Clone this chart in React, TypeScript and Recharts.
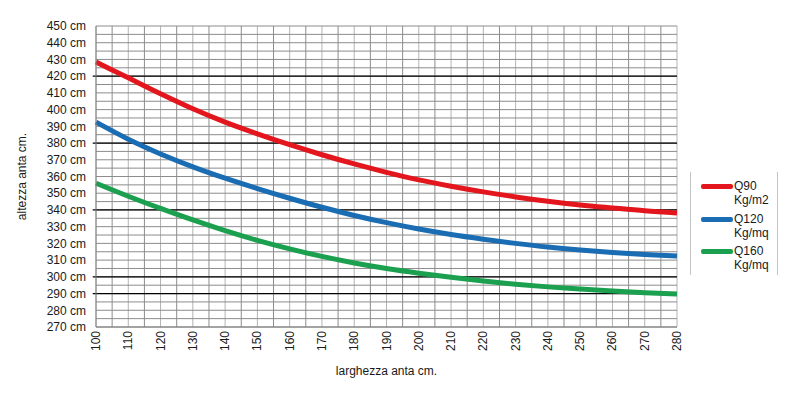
import React from "react";
import {
  LineChart,
  Line,
  XAxis,
  YAxis,
  ReferenceLine,
} from "recharts";

// larghezza anta (cm)
const widths = [
  100, 110, 120, 130, 140, 150, 160, 170, 180, 190, 200, 210, 220, 230, 240,
  250, 260, 270, 280,
];

// altezza anta (cm) per carico
const q90 = [
  428.5, 419, 409.5, 400.5, 392.5, 385.5, 379, 373, 367.5, 362.5, 358, 354.2,
  350.8, 347.8, 345.2, 343, 341.2, 339.5, 338.2,
];
const q120 = [
  392.5, 382.3, 373.5, 365.8, 359, 352.8, 347, 341.6, 336.7, 332.4, 328.6,
  325.3, 322.5, 320, 317.8, 316, 314.5, 313.3, 312.4,
];
const q160 = [
  356, 348.2, 340.9, 334, 327.6, 321.8, 316.7, 312.2, 308.3, 305, 302.2, 299.7,
  297.5, 295.6, 294, 292.7, 291.5, 290.5, 289.7,
];

const yTicks = [
  270, 280, 290, 300, 310, 320, 330, 340, 350, 360, 370, 380, 390, 400, 410,
  420, 430, 440, 450,
];

// linee nere di riferimento
const blackLines = [420, 380, 340, 300, 290];

const seriesNames = ["Q90\nKg/m2", "Q120\nKg/mq", "Q160\nKg/mq"];
const seriesColors = ["#e3161d", "#1a6cb3", "#1ba04f"];

const data = widths.map((w, i) => ({
  w,
  q90: q90[i],
  q120: q120[i],
  q160: q160[i],
}));

const gridX: number[] = [];
for (let v = 100; v <= 280; v += 5) gridX.push(v);
const gridY: number[] = [];
for (let v = 270; v <= 450; v += 5) gridY.push(v);

const font = "'Liberation Sans', Arial, sans-serif";
const textColor = "#1a1a1a";

const XTick = ({ x, y, payload }: any) => (
  <text
    transform={`translate(${x},${y}) rotate(-90)`}
    textAnchor="end"
    dominantBaseline="central"
    fontSize={12}
    fontFamily={font}
    fill={textColor}
  >
    {payload.value}
  </text>
);

const keys = ["q90", "q120", "q160"];

export default function App() {
  return (
    <div
      style={{
        position: "absolute",
        left: 0,
        top: 0,
        width: 801,
        height: 397,
        background: "#fff",
        fontFamily: font,
      }}
    >
      <LineChart
        width={801}
        height={397}
        data={data}
        margin={{ top: 26, right: 124, bottom: 0, left: 0 }}
      >
        {gridX.map((v) => (
          <ReferenceLine
            key={"gx" + v}
            x={v}
            stroke={v % 10 === 0 ? "#b4b4b4" : "#8c8c8c"}
            strokeWidth={1}
          />
        ))}
        {gridY.map((v) => (
          <ReferenceLine key={"gy" + v} y={v} stroke="#8c8c8c" strokeWidth={1} />
        ))}
        {blackLines.map((v) => (
          <ReferenceLine
            key={"b" + v}
            segment={[
              { x: 99, y: v },
              { x: 280, y: v },
            ]}
            ifOverflow="visible"
            stroke="#000"
            strokeWidth={1.2}
          />
        ))}
        <XAxis
          dataKey="w"
          type="number"
          domain={[100, 280]}
          ticks={widths}
          interval={0}
          height={70}
          tick={<XTick />}
          tickLine={false}
          tickSize={2}
          tickMargin={2}
          axisLine={{ stroke: "#808080" }}
          label={{
            value: "larghezza anta cm.",
            position: "insideBottom",
            offset: 22,
            fontSize: 12,
            fontFamily: font,
            fill: textColor,
          }}
        />
        <YAxis
          type="number"
          domain={[270, 450]}
          ticks={yTicks}
          interval={0}
          width={96}
          tickFormatter={(v: number) => `${v} cm`}
          tickLine={false}
          tickSize={8}
          tickMargin={2}
          axisLine={{ stroke: "#808080" }}
          tick={{ fontSize: 12, fontFamily: font, fill: textColor }}
          label={{
            value: "altezza anta cm.",
            angle: -90,
            position: "insideLeft",
            offset: 22,
            fontSize: 12,
            fontFamily: font,
            fill: textColor,
            style: { textAnchor: "middle" },
          }}
        />
        {keys.map((k, i) => (
          <Line
            key={k}
            type="monotone"
            dataKey={k}
            stroke={seriesColors[i]}
            strokeWidth={5}
            dot={false}
            isAnimationActive={false}
          />
        ))}
      </LineChart>
      <div
        style={{
          position: "absolute",
          left: 690,
          top: 172,
          width: 86,
          height: 103,
          borderLeft: "1px solid #c4c4c4",
          borderRight: "1px solid #c4c4c4",
        }}
      >
        {seriesNames.map((name, i) => (
          <div
            key={name}
            style={{
              position: "absolute",
              left: 10,
              top: 7 + i * 32.5,
              display: "flex",
              alignItems: "flex-start",
            }}
          >
            <div
              style={{
                width: 32,
                height: 5,
                marginTop: 5,
                borderRadius: 2,
                background: seriesColors[i],
              }}
            />
            <div
              style={{
                fontSize: 12,
                lineHeight: "14px",
                color: textColor,
                whiteSpace: "pre",
                marginLeft: 1,
              }}
            >
              {name}
            </div>
          </div>
        ))}
      </div>
    </div>
  );
}
